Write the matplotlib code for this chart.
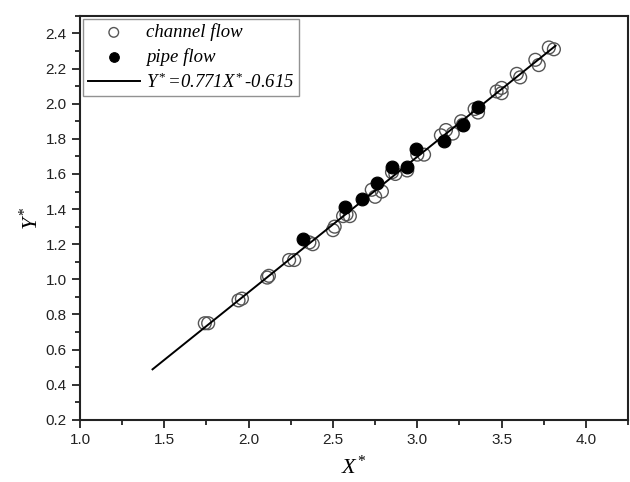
import numpy as np
import matplotlib
matplotlib.use("Agg")
import matplotlib.pyplot as plt
from matplotlib.ticker import MultipleLocator

plt.rcParams['font.family'] = ['Liberation Sans', 'DejaVu Sans']
plt.rcParams['mathtext.fontset'] = 'custom'
plt.rcParams['mathtext.rm'] = 'Liberation Serif'
plt.rcParams['mathtext.it'] = 'Liberation Serif:italic'

# channel flow (open circles)
channel_x = [1.74, 1.76, 1.94, 1.96, 2.11, 2.12, 2.24, 2.27, 2.36, 2.38,
             2.50, 2.51, 2.56, 2.58, 2.60, 2.73, 2.75, 2.79, 2.85, 2.87,
             2.94, 3.00, 3.04, 3.14, 3.17, 3.21, 3.26, 3.27, 3.34, 3.36,
             3.47, 3.50, 3.50, 3.59, 3.61, 3.70, 3.72, 3.78, 3.81]
channel_y = [0.75, 0.75, 0.88, 0.89, 1.01, 1.02, 1.11, 1.11, 1.21, 1.20,
             1.28, 1.30, 1.36, 1.37, 1.36, 1.51, 1.47, 1.50, 1.61, 1.60,
             1.62, 1.71, 1.71, 1.82, 1.85, 1.83, 1.90, 1.88, 1.97, 1.95,
             2.07, 2.06, 2.09, 2.17, 2.15, 2.25, 2.22, 2.32, 2.31]

# pipe flow (filled circles)
pipe_x = [2.32, 2.57, 2.67, 2.76, 2.85, 2.94, 2.99, 3.16, 3.27, 3.36]
pipe_y = [1.23, 1.41, 1.46, 1.55, 1.64, 1.64, 1.74, 1.79, 1.88, 1.98]

# fit line
slope = 0.771
intercept = -0.615
fit_range = [1.43, 3.82]

fig = plt.figure(figsize=(6.3, 4.82), dpi=100)
ax = fig.add_axes([0.127, 0.129, 0.870, 0.838])

fx = np.array(fit_range)
ax.plot(fx, slope * fx + intercept, color='black', lw=1.4, zorder=3,
        label='Y$^*$=0.771X$^*$-0.615')
ax.scatter(channel_x, channel_y, s=85, facecolors='none', edgecolors='#555555',
           linewidths=1.0, zorder=2, label='channel flow')
ax.scatter(pipe_x, pipe_y, s=85, facecolors='black', edgecolors='black',
           linewidths=0.8, zorder=4, label='pipe flow')

ax.set_xlim(1.0, 4.25)
ax.set_ylim(0.2, 2.5)
ax.xaxis.set_major_locator(MultipleLocator(0.5))
ax.xaxis.set_minor_locator(MultipleLocator(0.25))
ax.yaxis.set_major_locator(MultipleLocator(0.2))
ax.yaxis.set_minor_locator(MultipleLocator(0.1))
ax.tick_params(which='both', direction='out', top=False, right=False,
               width=1.3, labelsize=11, colors='#222222')
ax.tick_params(which='major', length=6)
ax.tick_params(which='minor', length=3.5)
for sp in ax.spines.values():
    sp.set_linewidth(1.5)
    sp.set_color('#222222')

ax.set_xlabel('X$^*$', fontsize=16, family='Liberation Serif', style='italic', labelpad=6)
ax.set_ylabel('Y$^*$', fontsize=16, family='Liberation Serif', style='italic', labelpad=2)

h, l = ax.get_legend_handles_labels()
order = [1, 2, 0]
leg = ax.legend([h[i] for i in order], [l[i] for i in order], loc='upper left',
                prop={'family': 'Liberation Serif', 'style': 'italic', 'size': 13.5},
                frameon=True, fancybox=False, edgecolor='#777777',
                borderaxespad=0.15, handlelength=2.8, handletextpad=0.3,
                labelspacing=0.35, borderpad=0.25, markerscale=0.75)
leg.get_frame().set_linewidth(1.0)

fig.savefig('out.png', dpi=100)
